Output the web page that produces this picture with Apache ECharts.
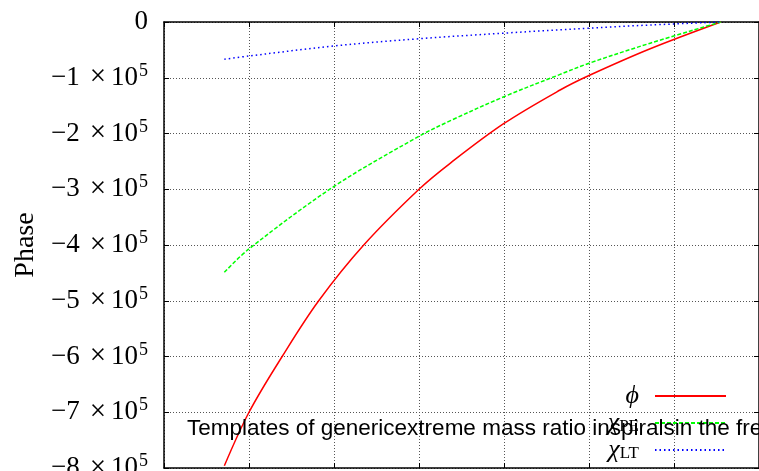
<!DOCTYPE html>
<html>
<head>
<meta charset="utf-8">
<script src="https://cdn.jsdelivr.net/npm/echarts@6/dist/echarts.min.js"></script>
<style>html,body{margin:0;padding:0;background:#fff}#c{width:759px;height:471px}</style>
</head>
<body>
<div id="c"></div>
<script>
// Data (x in grid-interval units, y in units of 1e5)
const phiX   = [0.71, 1, 1.39, 1.82, 2.35, 3, 3.37, 4, 4.66, 5, 5.72, 6.55];
const phiY   = [-7.96, -7.0, -6.0, -5.0, -4.0, -3.0, -2.53, -1.82, -1.22, -0.96, -0.48, 0];
const chiREX = [0.71, 1, 2, 3, 3.37, 4, 4.66, 5, 5.72, 6.55];
const chiREY = [-4.49, -4.07, -2.95, -2.05, -1.77, -1.34, -0.94, -0.74, -0.38, 0];
const chiLTX = [0.71, 1, 2, 3, 4, 5, 5.72, 6.55];
const chiLTY = [-0.668, -0.61, -0.43, -0.30, -0.20, -0.11, -0.054, 0];
const titleText = 'Templates of genericextreme mass ratio inspiralsin the frequency domain';

const scale = 1e5;
const pairs = (xs, ys) => xs.map((x, i) => [x, ys[i] * scale]);

const serif = "'Liberation Serif', 'DejaVu Serif', serif";
const chart = echarts.init(document.getElementById('c'), null, {renderer: 'canvas'});
const gridLine = {show: true, lineStyle: {color: '#555', width: 1, type: [1, 2]}};
const frame = {show: true, onZero: false, lineStyle: {color: '#000', width: 1.5}};
const ticks = {show: true, inside: true, length: 5, lineStyle: {color: '#000'}};

chart.setOption({
  animation: false,
  backgroundColor: '#fff',
  title: {
    text: titleText,
    left: 187, top: 417, padding: 0,
    textStyle: {fontFamily: "'Liberation Sans', Arial, sans-serif", fontSize: 22.5, fontWeight: 'normal', color: '#000'}
  },
  grid: {left: 164, right: 0, top: 22, bottom: 3, containLabel: false, outerBoundsMode: 'none'},
  legend: {
    orient: 'vertical', right: 32, top: 383, padding: 0,
    align: 'right',
    itemWidth: 71, itemHeight: 14, itemGap: 1,
    itemStyle: {color: 'rgba(0,0,0,0)', borderColor: 'rgba(0,0,0,0)', borderWidth: 0, opacity: 0},
    data: ['phi', 'chiRE', 'chiLT'],
    formatter: function (name) {
      if (name === 'phi') return '{i|ϕ}';
      if (name === 'chiRE') return '{i|χ}{s|PE}';
      return '{i|χ}{s|LT}';
    },
    textStyle: {
      width: 52, align: 'right', padding: [0, 11, 0, 0],
      fontFamily: serif, fontSize: 24, color: '#000', lineHeight: 24,
      rich: {
        i: {fontFamily: serif, fontSize: 26, fontStyle: 'italic', color: '#000', lineHeight: 24},
        s: {fontFamily: serif, fontSize: 17, color: '#000', lineHeight: 16, verticalAlign: 'bottom'}
      }
    }
  },
  xAxis: [{
    type: 'value', min: 0, max: 7, interval: 1, position: 'bottom',
    axisLine: frame, axisTick: ticks, axisLabel: {show: false}, splitLine: gridLine
  }, {
    type: 'value', min: 0, max: 7, interval: 1, position: 'top',
    axisLine: frame, axisTick: ticks, axisLabel: {show: false}, splitLine: {show: false}
  }],
  yAxis: [{
    type: 'value', min: -8 * scale, max: 0, interval: scale, position: 'left',
    name: 'Phase', nameLocation: 'middle', nameGap: 124, nameRotate: 90,
    nameTextStyle: {fontFamily: serif, fontSize: 28, color: '#000'},
    axisLine: frame, axisTick: ticks,
    axisLabel: {
      margin: 16, color: '#000',
      formatter: function (v) {
        const n = Math.round(v / scale);
        if (n === 0) return '{m|0}';
        return '{m|\u2212' + Math.abs(n) + '}{x|\u00d7}{m|10}{s|5}';
      },
      rich: {
        m: {fontFamily: serif, fontSize: 27, color: '#000'},
        x: {fontFamily: serif, fontSize: 29, color: '#000', padding: [0, 5, 0, 10]},
        s: {fontFamily: serif, fontSize: 18, color: '#000', padding: [0, 0, 13, 1]}
      }
    },
    splitLine: gridLine
  }, {
    type: 'value', min: -8 * scale, max: 0, interval: scale, position: 'right',
    axisLine: frame, axisTick: ticks, axisLabel: {show: false}, splitLine: {show: false}
  }],
  series: [{
    name: 'phi', type: 'line', showSymbol: false, symbol: 'none', smooth: 0.35,
    data: pairs(phiX, phiY),
    lineStyle: {color: '#ff0000', width: 1.5, type: 'solid'},
    itemStyle: {color: '#ff0000'}
  }, {
    name: 'chiRE', type: 'line', showSymbol: false, symbol: 'none', smooth: 0.35,
    data: pairs(chiREX, chiREY),
    lineStyle: {color: '#00ff00', width: 1.5, type: [4, 2]},
    itemStyle: {color: '#00ff00'}
  }, {
    name: 'chiLT', type: 'line', showSymbol: false, symbol: 'none', smooth: 0.35,
    data: pairs(chiLTX, chiLTY),
    lineStyle: {color: '#0000ff', width: 1.5, type: [1.5, 3]},
    itemStyle: {color: '#0000ff'}
  }]
});
</script>
</body>
</html>
